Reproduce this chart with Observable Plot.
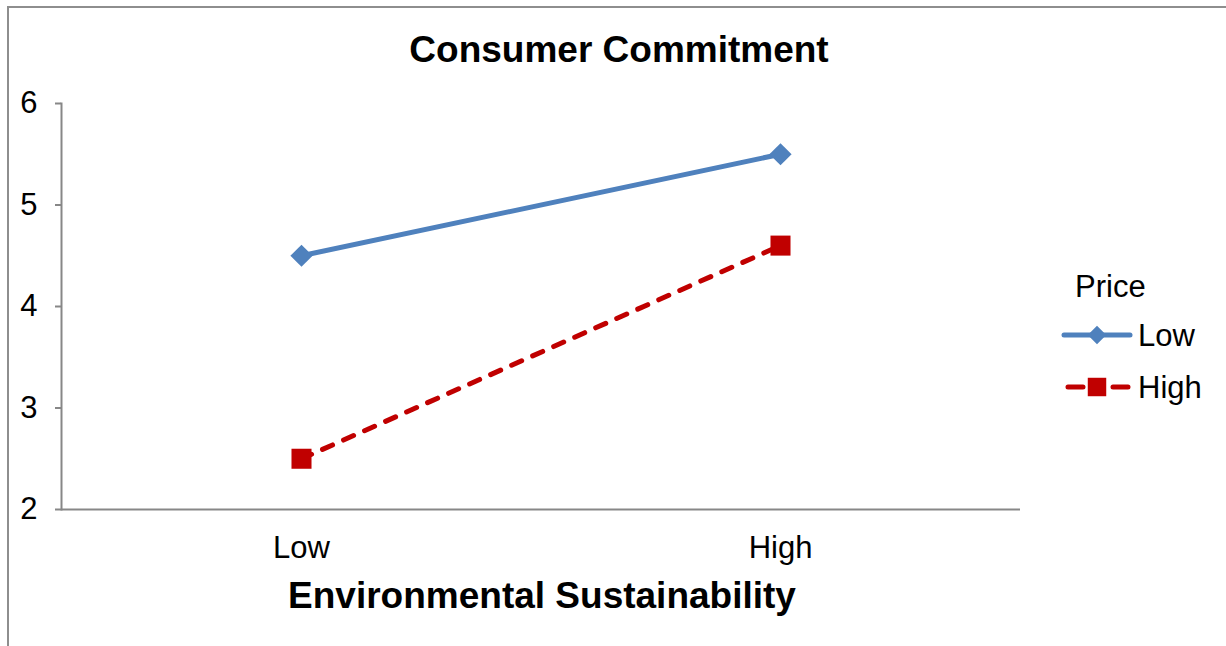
<!DOCTYPE html>
<html>
<head>
<meta charset="utf-8">
<script src="https://cdn.jsdelivr.net/npm/d3@7"></script>
<script src="https://cdn.jsdelivr.net/npm/@observablehq/plot@0.6"></script>
<style>
  body { margin: 0; background: #fff; font-family: "Liberation Sans", Arial, sans-serif; }
  #chart { position: relative; width: 1226px; height: 646px; overflow: hidden; }
  #border { position: absolute; left: 7px; top: 6px; width: 1240px; height: 660px;
            border-top: 2px solid #8e8e8e; border-left: 2px solid #8e8e8e; }
  #plot { position: absolute; left: 0; top: 0; }
  .label { position: absolute; font-weight: bold; font-size: 37px; line-height: 1; white-space: nowrap;
           transform: translateX(-50%); color: #000; }
  #title { left: 619px; top: 31px; }
  #xlabel { left: 542px; top: 577px; }
  #legend { position: absolute; left: 1050px; top: 255px; }
</style>
</head>
<body>
<div id="chart">
  <div id="border"></div>
  <div id="plot"></div>
  <div id="title" class="label">Consumer Commitment</div>
  <div id="xlabel" class="label">Environmental Sustainability</div>
  <svg id="legend" width="176" height="160"></svg>
</div>
<script>
// Environmental sustainability levels (x categories)
const envLevels = ["Low", "High"];
// Price conditions (series)
const priceLevels = ["Low", "High"];
// Mean consumer commitment per condition
const commitLowPrice = [4.5, 5.5];
const commitHighPrice = [2.5, 4.6];
// Y axis ticks
const yTicks = [2, 3, 4, 5, 6];

const seriesColors = ["#4F81BD", "#C00000"];
const seriesSymbols = ["diamond2", "square"];
const seriesR = [10, 11.3];
const seriesDash = [null, "11,12"];
const lineWidth = 5;
const tickFont = 31;

const seriesValues = [commitLowPrice, commitHighPrice];
const series = priceLevels.map((price, i) =>
  envLevels.map((env, j) => ({ env, price, value: seriesValues[i][j] }))
);

const marks = [
  Plot.ruleY([2], { stroke: "#878787", strokeWidth: 2 }),
  Plot.frame({ anchor: "left", stroke: "#878787", strokeWidth: 2 })
];
series.forEach((rows, i) => {
  marks.push(Plot.line(rows, {
    x: "env", y: "value",
    stroke: seriesColors[i], strokeWidth: lineWidth,
    strokeDasharray: seriesDash[i] || undefined,
    strokeLinecap: "round"
  }));
  marks.push(Plot.dot(rows, {
    x: "env", y: "value",
    symbol: seriesSymbols[i], r: seriesR[i],
    fill: seriesColors[i], stroke: "none"
  }));
});

const chart = Plot.plot({
  width: 1226,
  height: 646,
  marginLeft: 61,
  marginRight: 206,
  marginTop: 103,
  marginBottom: 137,
  style: { background: "transparent", fontFamily: "Liberation Sans, Arial, sans-serif", overflow: "visible" },
  x: { type: "point", domain: envLevels, padding: 0.5, label: null },
  y: { domain: [2, 6], label: null },
  marks: [
    Plot.axisY({ ticks: yTicks, tickFormat: d3.format("d"), tickSize: 6, tickPadding: 18, fontSize: tickFont,
                 stroke: "#878787", strokeWidth: 2, color: "#000", label: null }),
    Plot.axisX({ tickSize: 0, tickPadding: 26, fontSize: tickFont, color: "#000", label: null }),
    ...marks
  ]
});
document.getElementById("plot").appendChild(chart);

// Legend: title and one swatch per price level
const legend = d3.select("#legend");
legend.append("text").attr("x", 25).attr("y", 42).attr("font-size", tickFont).attr("fill", "#000").text("Price");
priceLevels.forEach((price, i) => {
  const cy = 80 + i * 52;
  const g = legend.append("g");
  g.append("line")
    .attr("x1", i === 0 ? 14 : 18).attr("x2", 80).attr("y1", cy).attr("y2", cy)
    .attr("stroke", seriesColors[i]).attr("stroke-width", lineWidth).attr("stroke-linecap", "round")
    .attr("stroke-dasharray", seriesDash[i] === null ? null : "15,30");
  g.append("path").attr("transform", `translate(47,${cy})`)
    .attr("d", d3.symbol(i === 0 ? d3.symbolDiamond2 : d3.symbolSquare, Math.PI * seriesR[i] * seriesR[i] * (i === 0 ? 0.7 : 0.85))())
    .attr("fill", seriesColors[i]);
  g.append("text").attr("x", 88).attr("y", cy + 11).attr("font-size", tickFont).attr("fill", "#000").text(price);
});
</script>
</body>
</html>
